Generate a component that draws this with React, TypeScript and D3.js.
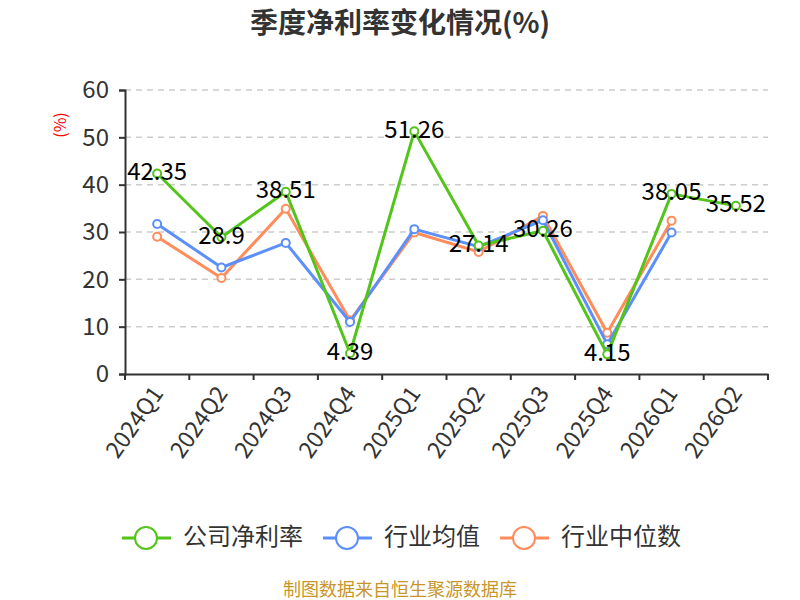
import React, { useEffect, useRef } from "react";
import * as d3 from "d3";

// chart data
const quarters = ["2024Q1", "2024Q2", "2024Q3", "2024Q4", "2025Q1", "2025Q2", "2025Q3", "2025Q4", "2026Q1", "2026Q2"];
const companyRate = [42.35, 28.9, 38.51, 4.39, 51.26, 27.14, 30.26, 4.15, 38.05, 35.52];
const industryAvg = [31.7, 22.5, 27.7, 11.0, 30.6, 26.9, 32.5, 6.3, 29.9, null];
const industryMedian = [29.0, 20.3, 34.9, 11.3, 29.9, 25.8, 33.4, 8.7, 32.4, null];
const yTicks = [0, 10, 20, 30, 40, 50, 60];

const seriesNames = ["公司净利率", "行业均值", "行业中位数"];
const colors = ["#52c41a", "#5b8ff9", "#ff8c5a"];

const W = 800;
const H = 600;
const FONT = "'Noto Sans CJK SC', 'Noto Sans', sans-serif";

const App: React.FC = () => {
  const svgRef = useRef<SVGSVGElement | null>(null);

  useEffect(() => {
    const svg = d3.select(svgRef.current);
    svg.selectAll("*").remove();

    const left = 125;
    const right = 768;
    const top = 90;
    const bottom = 374;

    const x = d3.scaleBand<string>().domain(quarters).range([left, right]);
    const y = d3.scaleLinear().domain([0, 60]).range([bottom, top]);
    const cx = (q: string) => (x(q) ?? 0) + x.bandwidth() / 2;

    // title
    svg
      .append("text")
      .attr("x", W / 2)
      .attr("y", 33)
      .attr("text-anchor", "middle")
      .attr("font-size", 28)
      .attr("font-weight", "bold")
      .attr("fill", "#333")
      .text("季度净利率变化情况(%)");

    // grid lines
    svg
      .append("g")
      .selectAll("line")
      .data(yTicks.filter((t) => t > 0))
      .join("line")
      .attr("x1", left)
      .attr("x2", right)
      .attr("y1", (d) => y(d))
      .attr("y2", (d) => y(d))
      .attr("stroke", "#ccc")
      .attr("stroke-width", 1.5)
      .attr("stroke-dasharray", "6,5");

    // y axis
    const yAxis = svg
      .append("g")
      .attr("transform", `translate(${left},0)`)
      .call(d3.axisLeft(y).tickValues(yTicks).tickSize(6).tickPadding(10));
    yAxis.select(".domain").attr("stroke", "#333").attr("stroke-width", 2);
    yAxis.selectAll(".tick line").attr("stroke", "#333").attr("stroke-width", 2);
    yAxis
      .selectAll(".tick text")
      .attr("font-size", 24)
      .attr("font-family", FONT)
      .attr("fill", "#333");

    // y axis unit
    svg
      .append("text")
      .attr("transform", `translate(62,125) rotate(-90)`)
      .attr("text-anchor", "middle")
      .attr("dominant-baseline", "middle")
      .attr("font-size", 16)
      .attr("fill", "red")
      .text("(%)");

    // x axis
    const xAxis = svg
      .append("g")
      .attr("transform", `translate(0,${bottom})`)
      .call(d3.axisBottom(x).tickSize(0).tickFormat(() => ""));
    xAxis.select(".domain").attr("stroke", "#333").attr("stroke-width", 2);
    xAxis.selectAll(".tick").remove();

    const tickXs = quarters.map((q) => x(q) ?? 0).concat([right]);
    svg
      .append("g")
      .selectAll("line")
      .data(tickXs)
      .join("line")
      .attr("x1", (d) => d)
      .attr("x2", (d) => d)
      .attr("y1", bottom)
      .attr("y2", bottom + 6)
      .attr("stroke", "#333")
      .attr("stroke-width", 2);

    svg
      .append("g")
      .selectAll("text")
      .data(quarters)
      .join("text")
      .attr("transform", (d) => `translate(${cx(d) + 2},${bottom + 16}) rotate(-55)`)
      .attr("text-anchor", "end")
      .attr("dominant-baseline", "middle")
      .attr("font-size", 23)
      .attr("fill", "#333")
      .text((d) => d);

    // lines
    const allSeries = [companyRate, industryAvg, industryMedian];
    const line = d3
      .line<number | null>()
      .defined((d) => d !== null)
      .x((_, i) => cx(quarters[i]))
      .y((d) => y(d as number));

    // draw median, avg, then company on top
    [2, 1, 0].forEach((si) => {
      const data = allSeries[si];
      const g = svg.append("g");
      g.append("path")
        .attr("d", line(data))
        .attr("fill", "none")
        .attr("stroke", colors[si])
        .attr("stroke-width", 3)
        .attr("stroke-linejoin", "round");
      g.selectAll("circle")
        .data(data.map((v, i) => ({ v, q: quarters[i] })).filter((d) => d.v !== null))
        .join("circle")
        .attr("cx", (d) => cx(d.q))
        .attr("cy", (d) => y(d.v as number))
        .attr("r", 4)
        .attr("fill", "#fff")
        .attr("stroke", colors[si])
        .attr("stroke-width", 2);
    });

    // company labels
    svg
      .append("g")
      .selectAll("text")
      .data(companyRate)
      .join("text")
      .attr("x", (_, i) => cx(quarters[i]))
      .attr("y", (d) => y(d))
      .attr("text-anchor", "middle")
      .attr("dominant-baseline", "middle")
      .attr("font-size", 24)
      .attr("fill", "#000")
      .text((d) => String(d));

    // legend
    const legendX = [122, 323, 500];
    const legend = svg.append("g");
    seriesNames.forEach((name, i) => {
      const lg = legend.append("g").attr("transform", `translate(${legendX[i]},538)`);
      lg.append("line")
        .attr("x1", 0)
        .attr("x2", 49)
        .attr("stroke", colors[i])
        .attr("stroke-width", 3);
      lg.append("circle")
        .attr("cx", 24)
        .attr("r", 11)
        .attr("fill", "#fff")
        .attr("stroke", colors[i])
        .attr("stroke-width", 2);
      lg.append("text")
        .attr("x", 61)
        .attr("dominant-baseline", "middle")
        .attr("font-size", 24)
        .attr("fill", "#333")
        .text(name);
    });

    // source note
    svg
      .append("text")
      .attr("x", W / 2)
      .attr("y", 596)
      .attr("text-anchor", "middle")
      .attr("font-size", 18)
      .attr("fill", "#c8962a")
      .text("制图数据来自恒生聚源数据库");
  }, []);

  return (
    <svg
      ref={svgRef}
      width={W}
      height={H}
      style={{ position: "absolute", left: 0, top: 0, background: "#fff", fontFamily: FONT }}
    ></svg>
  );
};

export default App;
